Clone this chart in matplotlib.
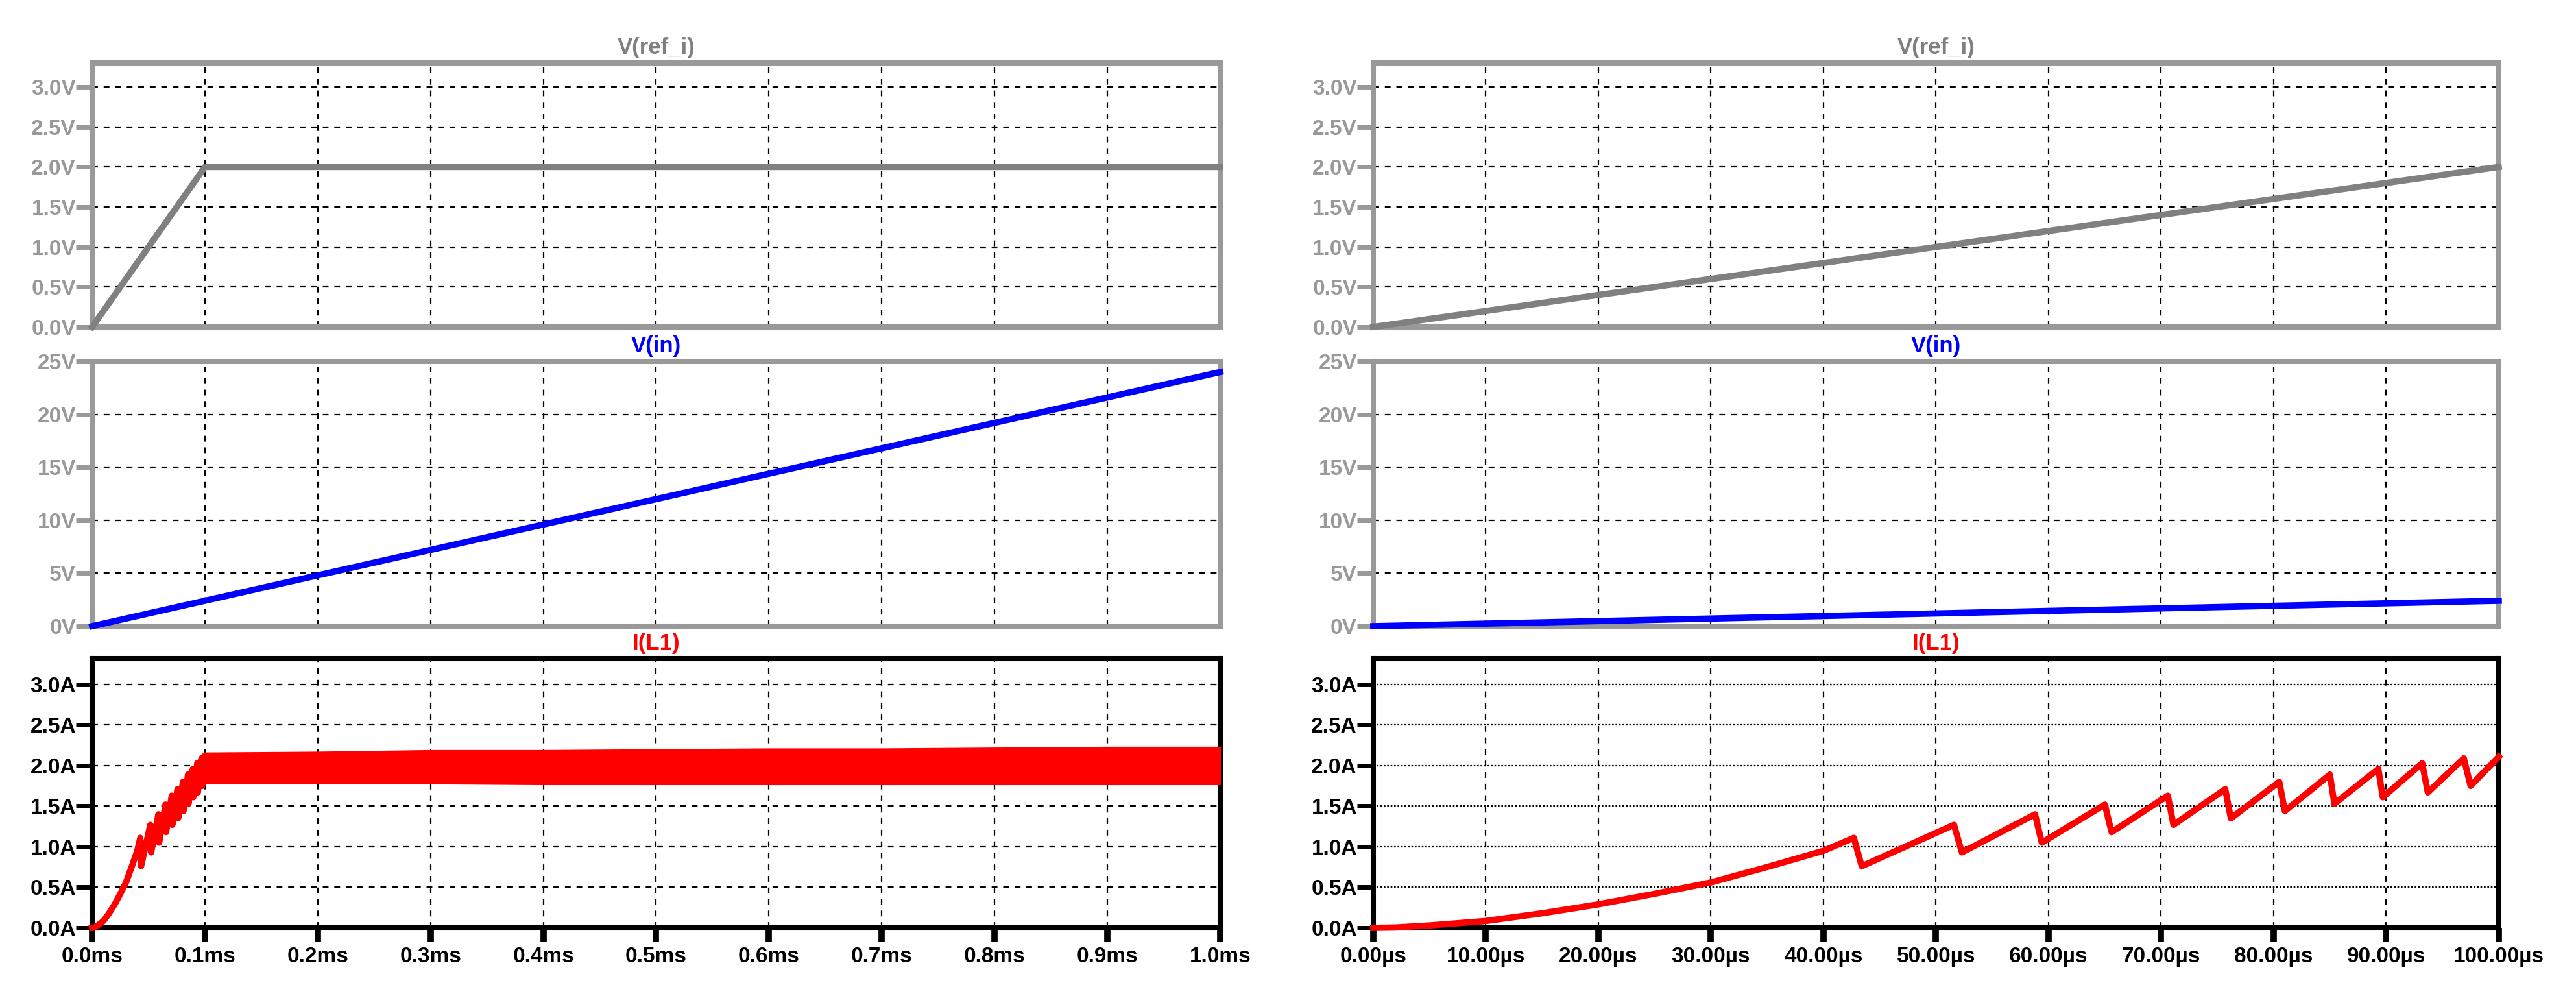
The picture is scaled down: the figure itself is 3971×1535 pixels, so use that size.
import matplotlib
matplotlib.use("Agg")
import matplotlib.pyplot as plt

plt.rcParams['font.family'] = ['Liberation Sans', 'DejaVu Sans']

# --- data ---
# left window: 0 .. 1 ms
t_ref_ms = [0.0, 0.1, 1.0]
v_ref_ms = [0.0, 2.0, 2.0]
t_in_ms = [0.0, 1.0]
v_in_ms = [0.0, 24.0]

# right window: 0 .. 100 us
t_ref_us = [0.0, 100.0]
v_ref_us = [0.0, 2.0]
t_in_us = [0.0, 100.0]
v_in_us = [0.0, 2.4]

# inductor current, startup (us)
t_il_us = [0, 2, 5, 10, 15, 20, 25, 30, 35, 40, 42.7, 43.4, 51.6, 52.3, 58.8, 59.4,
           65.0, 65.6, 70.6, 71.1, 75.7, 76.2, 80.5, 81.0, 85.0, 85.4, 89.3, 89.7,
           93.2, 93.7, 96.9, 97.5, 100.0]
i_il_us = [0, 0.005, 0.03, 0.085, 0.18, 0.29, 0.42, 0.56, 0.75, 0.95, 1.11, 0.76, 1.27, 0.93,
           1.40, 1.05, 1.52, 1.18, 1.63, 1.27, 1.71, 1.35, 1.80, 1.44, 1.89, 1.53, 1.96, 1.61,
           2.03, 1.67, 2.09, 1.75, 2.11]

# inductor current ripple band after 0.1 ms
t_band_ms = [0.1, 0.2, 0.3, 0.4, 0.5, 0.6, 0.7, 0.8, 0.9, 1.0]
i_band_hi = [2.15, 2.16, 2.18, 2.18, 2.19, 2.20, 2.20, 2.21, 2.22, 2.22]
i_band_lo = [1.79, 1.79, 1.79, 1.78, 1.78, 1.78, 1.78, 1.78, 1.78, 1.78]

v_ticks = [0, 0.5, 1.0, 1.5, 2.0, 2.5, 3.0]
v_labels = ["0.0V", "0.5V", "1.0V", "1.5V", "2.0V", "2.5V", "3.0V"]
vin_ticks = [0, 5, 10, 15, 20, 25]
vin_labels = ["0V", "5V", "10V", "15V", "20V", "25V"]
i_ticks = [0, 0.5, 1.0, 1.5, 2.0, 2.5, 3.0]
i_labels = ["0.0A", "0.5A", "1.0A", "1.5A", "2.0A", "2.5A", "3.0A"]
ms_ticks = [0.0, 0.1, 0.2, 0.3, 0.4, 0.5, 0.6, 0.7, 0.8, 0.9, 1.0]
ms_labels = ["0.0ms", "0.1ms", "0.2ms", "0.3ms", "0.4ms", "0.5ms", "0.6ms", "0.7ms",
             "0.8ms", "0.9ms", "1.0ms"]
us_ticks = [0, 10, 20, 30, 40, 50, 60, 70, 80, 90, 100]
us_labels = ["0.00µs", "10.00µs", "20.00µs", "30.00µs", "40.00µs", "50.00µs", "60.00µs",
             "70.00µs", "80.00µs", "90.00µs", "100.00µs"]

GRAY = "#999999"
TRACE_GRAY = "#808080"
FS = 24
LW = 7

fig = plt.figure(figsize=(39.71, 15.35), dpi=100)

cols = [0.03576, 0.5331]
widths = [0.4379, 0.4369]
rows = [(0.6717, 0.2651), (0.3713, 0.2658), (0.0684, 0.2704)]


def style(ax, xlim, xticks, ylim, yticks, ylabels, frame, title, tcolor, xlabels=None, hdots=False):
    ax.set_xlim(xlim)
    ax.set_ylim(ylim)
    for s in ax.spines.values():
        s.set_color(frame)
        s.set_linewidth(5.8)
        s.set_zorder(2.5)
    ax.set_xticks(xticks)
    ax.set_yticks(yticks)
    ax.set_yticklabels(ylabels, fontsize=FS, fontweight="bold", color=frame)
    ax.tick_params(axis="y", length=18, width=5, color=frame, pad=0)
    if xlabels is None:
        ax.tick_params(axis="x", length=0, labelbottom=False)
    else:
        ax.set_xticklabels(xlabels, fontsize=FS, fontweight="bold", color="black")
        ax.tick_params(axis="x", length=16, width=7, color=frame, pad=5)
    for x in xticks[1:-1]:
        ax.axvline(x, color="black", lw=1.6, ls=(0, (4, 4)), zorder=1)
    for y in yticks:
        if ylim[0] < y < ylim[1]:
            ax.axhline(y, color="black", lw=1.6, ls=(0, (1.2, 1.2)) if hdots else (0, (4, 4)), zorder=1)
    ax.annotate(title, xy=(0.5, 1.0), xycoords="axes fraction", xytext=(0, 17),
                textcoords="offset points", ha="center", va="center",
                fontsize=FS + 1, fontweight="bold", color=tcolor)


# left window
ax = fig.add_axes([cols[0], rows[0][0], widths[0], rows[0][1]])
ax.plot(t_ref_ms, v_ref_ms, color=TRACE_GRAY, lw=LW, zorder=3, clip_on=False)
style(ax, (0, 1.0), ms_ticks, (0, 3.3), v_ticks, v_labels, GRAY, "V(ref_i)", TRACE_GRAY)

ax = fig.add_axes([cols[0], rows[1][0], widths[0], rows[1][1]])
ax.plot(t_in_ms, v_in_ms, color="blue", lw=LW, zorder=3, clip_on=False)
style(ax, (0, 1.0), ms_ticks, (0, 25), vin_ticks, vin_labels, GRAY, "V(in)", "blue")

ax = fig.add_axes([cols[0], rows[2][0], widths[0], rows[2][1]])
ax.plot([t / 1000 for t in t_il_us], i_il_us, color="red", lw=LW, zorder=3, clip_on=False)
ax.fill_between(t_band_ms, i_band_lo, i_band_hi, color="red", lw=3, zorder=3)
style(ax, (0, 1.0), ms_ticks, (0, 3.32), i_ticks, i_labels, "black", "I(L1)", "red", ms_labels)

# right window
ax = fig.add_axes([cols[1], rows[0][0], widths[1], rows[0][1]])
ax.plot(t_ref_us, v_ref_us, color=TRACE_GRAY, lw=LW, zorder=3, clip_on=False)
style(ax, (0, 100), us_ticks, (0, 3.3), v_ticks, v_labels, GRAY, "V(ref_i)", TRACE_GRAY)

ax = fig.add_axes([cols[1], rows[1][0], widths[1], rows[1][1]])
ax.plot(t_in_us, v_in_us, color="blue", lw=LW, zorder=3, clip_on=False)
style(ax, (0, 100), us_ticks, (0, 25), vin_ticks, vin_labels, GRAY, "V(in)", "blue")

ax = fig.add_axes([cols[1], rows[2][0], widths[1], rows[2][1]])
ax.plot(t_il_us, i_il_us, color="red", lw=LW, zorder=3, clip_on=False)
style(ax, (0, 100), us_ticks, (0, 3.32), i_ticks, i_labels, "black", "I(L1)", "red", us_labels, hdots=True)

fig.savefig("out.png", dpi=100, facecolor="white")
